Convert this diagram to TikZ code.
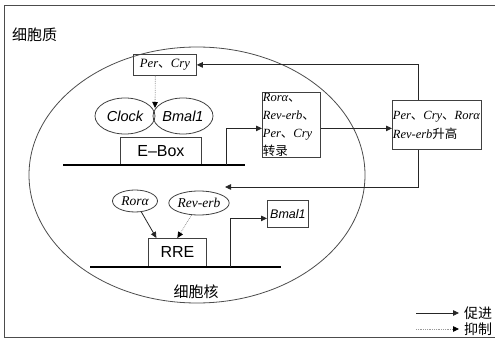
\documentclass[tikz,border=0pt]{standalone}
\usepackage{fontspec}
\setmainfont{Liberation Serif}
\setsansfont{Liberation Sans}
\newfontfamily\cjk{Noto Sans CJK SC}
\usetikzlibrary{arrows.meta,shapes.geometric}
\newcommand{\dn}{{\upshape\cjk 、}}
\begin{document}
\begin{tikzpicture}[x=1pt,y=-1pt,
  box/.style={draw=black!75, line width=0.8pt, inner sep=1pt},
  oval/.style={draw=black!75, line width=0.8pt, ellipse, inner sep=0pt},
  prom/.style={draw=black!85, line width=0.8pt, -{Triangle[length=6pt,width=5.5pt]}},
  inhib/.style={draw=black!40, line width=0.8pt, densely dotted, -{Triangle[length=6pt,width=5.5pt,color=black]}},
  dna/.style={line width=2.6pt, black},
  it/.style={font=\fontsize{12.7}{14}\selectfont\itshape},
  sit/.style={font=\fontsize{14.5}{16}\selectfont\sffamily\itshape},
  lab/.style={font=\fontsize{15}{17}\selectfont\cjk}]
\useasboundingbox (0,0) rectangle (495,344);
% frame
\draw[black!70, line width=0.9pt] (497,5) -- (4,5) -- (4,337) -- (497,337);
% nucleus
\draw[black!70, line width=0.8pt] (197,175) ellipse [x radius=168pt, y radius=128pt];
\node[lab, anchor=west, inner sep=0pt] (cyto) at (12,35) {细胞质};
\node[lab] (nuc) at (196,292) {细胞核};

% top half
\node[box, it, minimum width=63, minimum height=21, anchor=north west] (perbox) at (133,54) {Per\dn Cry};
\node[oval, sit, minimum width=60, minimum height=36] (clock) at (125,116) {Clock};
\node[oval, sit, minimum width=60, minimum height=36] (bmal) at (183,116) {Bmal1};
\node[box, font=\fontsize{16}{18}\selectfont\sffamily, minimum width=81, minimum height=27, anchor=north west] (ebox) at (120,137) {E–Box};
\coordinate (d1a) at (63,165);
\coordinate (d1b) at (245,165);
\draw[dna] (d1a) -- (d1b);
\coordinate (e1) at (226,165);

\node[box, font=\fontsize{12.5}{18}\selectfont\itshape, minimum width=57, minimum height=65, text width=57, align=left, inner sep=0.5pt, anchor=north west] (trbox) at (262,92)
  {Rorα\dn\\Rev-erb\dn\\Per\dn Cry\\{\upshape\cjk 转录}};
\node[box, font=\fontsize{12.5}{19}\selectfont\itshape, minimum width=88, minimum height=49, text width=88, align=left, inner sep=0.5pt, anchor=north west] (upbox) at (392,100)
  {Per\dn Cry\dn Rorα\\Rev-erb{\upshape\cjk 升高}};

\draw[prom] (e1) |- ([yshift=-3.5pt]trbox.west);
\draw[prom] ([yshift=-3.5pt]trbox.east) -- ([yshift=-3.5pt]trbox.east -| upbox.west);
\draw[prom] ([xshift=-19pt]upbox.north) |- (perbox.east);
\coordinate (fb) at (225,187);
\draw[prom] ([xshift=-19pt]upbox.south) |- (fb);
\coordinate (junc) at (155,108);
\draw[inhib] ([xshift=-9.5pt]perbox.south) -- (junc);

% bottom half
\node[oval, font=\fontsize{13.5}{15}\selectfont\itshape, minimum width=45, minimum height=22] (rora) at (135,201) {Rorα};
\node[oval, font=\fontsize{13.5}{15}\selectfont\itshape, minimum width=58, minimum height=24] (reverb) at (199,203) {Rev-erb};
\node[box, font=\fontsize{16}{18}\selectfont\sffamily, minimum width=58, minimum height=28, anchor=north west] (rre) at (148,238) {RRE};
\coordinate (d2a) at (90,267);
\coordinate (d2b) at (281,267);
\draw[dna] (d2a) -- (d2b);
\coordinate (e2) at (230,267);
\node[box, font=\fontsize{12.5}{14}\selectfont\sffamily\itshape, minimum width=41, minimum height=27, anchor=north west] (bmalbox) at (267,200) {Bmal1};
\draw[prom] (rora) -- ([xshift=-21pt]rre.north);
\draw[inhib] (reverb) -- (rre.north);
\draw[prom] (e2) |- ([yshift=-4.5pt]bmalbox.west);

% legend
\coordinate (l1a) at (416,313);
\coordinate (l2a) at (416,329);
\node[font=\fontsize{14}{16}\selectfont\cjk, anchor=west, inner sep=0pt] (lp) at (464,313) {促进};
\node[font=\fontsize{14}{16}\selectfont\cjk, anchor=west, inner sep=0pt] (li) at (464,329) {抑制};
\draw[prom] (l1a) -- ([xshift=-5pt]lp.west);
\draw[inhib] (l2a) -- ([xshift=-5pt]li.west);
\end{tikzpicture}
\end{document}
